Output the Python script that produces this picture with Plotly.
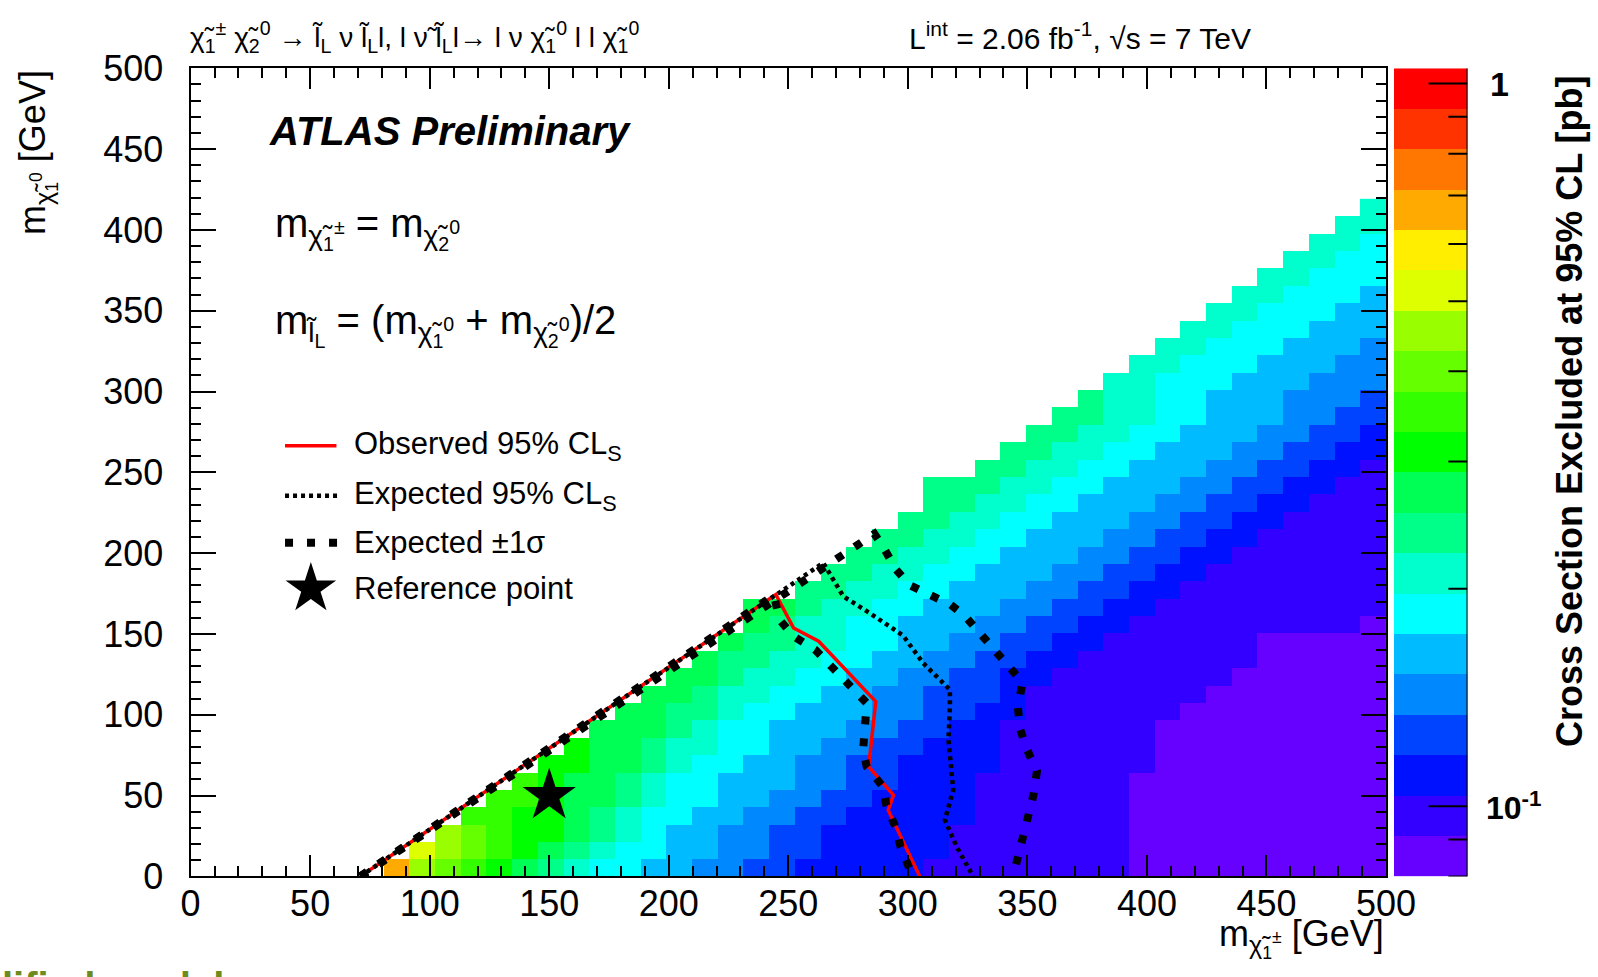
import math
import plotly.graph_objects as go

W, H = 1598, 977
FONT = "Liberation Sans, Arial, Helvetica, sans-serif"

# ---------------- histogram binning (GeV) ----------------
X_MIN, X_MAX, N_XBINS = 70.0, 500.0, 40
Y_MIN = 0.0
BIN_W = (X_MAX - X_MIN) / N_XBINS          # 10.75 GeV bins in both directions

# ---------------- colour bands (lowest -> highest excluded cross section) ----------------
BAND_CODES = "VUBNASCQPGHILKYyOorR"
BAND_COLORS = ["#6600FF", "#3300FF", "#0011FF", "#0044FF", "#0088FF",
               "#00BBFF", "#00FFFF", "#00FFCC", "#00FF88", "#00FF55",
               "#00FF00", "#33FF00", "#66FF00", "#99FF00", "#DDFF00",
               "#FFEE00", "#FFAA00", "#FF7700", "#FF3300", "#FF0000"]
Z_LO, Z_HI = 0.08, 1.05   # pb, colour-axis range

# first filled column of each row (row 0 = lowest neutralino-mass bin)
ROW_FIRST_COL = [1, 2, 3, 4, 5, 6, 7, 8, 9, 10, 11, 12, 13, 14, 15, 15, 17, 18, 19, 20,
                 21, 22, 22, 24, 25, 26, 27, 28, 29, 30, 31, 32, 33, 34, 35, 36, 37, 38, 39]
# band code of every filled cell, read row by row from left to right
ROW_BANDS = [
    "OKLIHGPQCCSSAANNBBBBBUUUUUUUUVVVVVVVVVV",
    "YKLIHGPQCCSSAANNBBBBBUUUUUUUVVVVVVVVVV",
    "KLIHHGPQCSSAANNBBBBBUUUUUUUVVVVVVVVVV",
    "IIHHGPQCCSSAANNBBBBBUUUUUUVVVVVVVVVV",
    "IIHGGPQCCSSAANNBBBBUUUUUUVVVVVVVVVV",
    "IHGGPQCCSSSAANNBBBUUUUUUVVVVVVVVVV",
    "HHGGPQCCSSAANNBBBBUUUUUUVVVVVVVVV",
    "HGGPQQCCSSAANNBBBUUUUUUVVVVVVVVV",
    "GGGPQCCSSSAANNBBUUUUUUVVVVVVVVV",
    "GGPPQCCSSSAANNBBUUUUUUVVVVVVVV",
    "GGPQQCCSSAANNNBUUUUUUUVVVVVVV",
    "GGPQQCCSSAANNBBUUUUUUUVVVVVV",
    "GPPQQCCSSAANNBBUUUUUUUVVVVV",
    "GPPQQCCSSAANNBBUUUUUUVVVVV",
    "GPQQCCSSSAANNBBUUUUUUUUUV",
    "GGPQQCCSSSAANNBBUUUUUUUUU",
    "PPQQCCSSSAANNBBUUUUUUUU",
    "PPQQCCSSSAANNBBUUUUUUU",
    "PPQQCCSSSAANNBBUUUUUU",
    "PPQQCCSSSAANNBBUUUUU",
    "PPQQCCSSSAANNBBUUUU",
    "PPQQCCSSSAANNBBUUU",
    "PPPQQCCSSSAANNBBUU",
    "PPQQCCSSSAANNBBU",
    "PPQQCCSSSAANNBB",
    "PPQQCCSSSAANNB",
    "PPQQCCSSSAANN",
    "PQQCCSSSAAAN",
    "QQCCCSSSAAA",
    "QQCCCSSSAA",
    "QQCCCSSSA",
    "QQCCCSSS",
    "QQCCCSS",
    "QQCCCS",
    "QQCCC",
    "QQCC",
    "QQC",
    "QQ",
    "Q",
]

# ---------------- exclusion contours (GeV) ----------------
OBS_X = [71, 244.8, 252.2, 262.7, 286.6, 283.6, 294.0, 291.8, 305]
OBS_Y = [0, 174.4, 153.7, 145.5, 108.2, 67.9, 50.3, 41.0, 0]

EXP_X = [71, 264.6, 273.0, 284.0, 298.0, 306.4, 317.6, 317.6, 317.0, 319.0, 315.5, 320.4, 327.3]
EXP_Y = [0, 194.0, 173.3, 163.0, 149.0, 132.0, 115.5, 105.2, 84.5, 53.5, 35.0, 18.4, 0]

P1S_X = [71, 286, 290, 295, 301, 310, 318, 324, 330, 336, 342, 348, 346, 347, 350, 354, 352.5, 350.5, 347.6, 345.5, 344]
P1S_Y = [0, 212, 203, 190, 180, 174, 168, 161, 151, 141, 130, 120, 105, 91, 78, 65, 50, 37, 23, 9, 0]

M1S_X = [71, 244, 246.3, 252.2, 261.2, 268.7, 276.1, 282.8, 282.1, 281.3, 282.8, 289.6, 291.0, 294.8, 297.0, 301.0, 302]
M1S_Y = [0, 174, 158.9, 148.6, 140.3, 127.9, 117.5, 107.2, 92.7, 78.2, 67.9, 55.5, 44.1, 30.6, 18.2, 5.0, 0]

REF_X, REF_Y = [150], [50]

CB_TICK_VALUES = [0.08, 0.09, 0.1, 0.2, 0.3, 0.4, 0.5, 0.6, 0.7, 0.8, 0.9, 1.0]
CB_MAJOR = [0.1, 1.0]

# ---------------- build histogram ----------------
lo, hi = math.log10(Z_LO), math.log10(Z_HI)
step = (hi - lo) / len(BAND_COLORS)
x_edges = [X_MIN + BIN_W * k for k in range(N_XBINS + 1)]
y_edges = [Y_MIN + BIN_W * k for k in range(len(ROW_BANDS) + 1)]
z = []
for first, codes in zip(ROW_FIRST_COL, ROW_BANDS):
    row = [None] * N_XBINS
    for k, ch in enumerate(codes):
        i = first + k
        if i < N_XBINS:
            row[i] = lo + (BAND_CODES.index(ch) + 0.5) * step
    z.append(row)

n = len(BAND_COLORS)
cscale = []
for k, c in enumerate(BAND_COLORS):
    cscale.append([k / n, c])
    cscale.append([(k + 1) / n, c])

# ---------------- layout geometry (pixels) ----------------
PX0, PX1 = 190.6, 1386.0
PY0, PY1 = 68.3, 876.4
CBX0, CBX1 = 1394.0, 1467.5
xdom = [PX0 / W, PX1 / W]
ydom = [1 - PY1 / H, 1 - PY0 / H]
cbdom = [CBX0 / W, CBX1 / W]

fig = go.Figure()

fig.add_trace(go.Heatmap(x=x_edges, y=y_edges, z=z, colorscale=cscale, zmin=lo, zmax=hi,
                         showscale=False, hoverinfo="skip", xaxis="x", yaxis="y"))

BIG_DOT = dict(color="black", width=8, dash="8px,14px")
FINE_DOT = dict(color="black", width=4.5, dash="4px,4px")
fig.add_trace(go.Scatter(x=OBS_X, y=OBS_Y, mode="lines",
                         line=dict(color="#FF0000", width=3.5), hoverinfo="skip"))
fig.add_trace(go.Scatter(x=M1S_X, y=M1S_Y, mode="lines", line=BIG_DOT, hoverinfo="skip"))
fig.add_trace(go.Scatter(x=P1S_X, y=P1S_Y, mode="lines", line=BIG_DOT, hoverinfo="skip"))
fig.add_trace(go.Scatter(x=EXP_X, y=EXP_Y, mode="lines", line=FINE_DOT, hoverinfo="skip"))
fig.add_trace(go.Scatter(x=REF_X, y=REF_Y, mode="markers",
                         marker=dict(symbol="star", size=40, color="black"), hoverinfo="skip"))
# legend star
fig.add_trace(go.Scatter(x=[50.3], y=[178], mode="markers",
                         marker=dict(symbol="star", size=38, color="black"), hoverinfo="skip"))

# colour bar as its own small panel
cb_edges = [lo + step * k for k in range(n + 1)]
fig.add_trace(go.Heatmap(x=[0, 1], y=cb_edges, z=[[lo + (k + 0.5) * step] for k in range(n)],
                         colorscale=cscale, zmin=lo, zmax=hi, showscale=False,
                         hoverinfo="skip", xaxis="x2", yaxis="y2"))

axis_common = dict(showline=True, linecolor="black", linewidth=2, mirror="allticks",
                   ticks="inside", tickwidth=2, tickcolor="black", showgrid=False,
                   zeroline=False, automargin=False,
                   tickfont=dict(family=FONT, size=36, color="black"))
fig.update_layout(
    width=W, height=H, margin=dict(l=0, r=0, t=0, b=0),
    paper_bgcolor="white", plot_bgcolor="white", showlegend=False,
    font=dict(family=FONT, color="black"),
    xaxis=dict(domain=xdom, range=[0, 500], tick0=0, dtick=50, ticklen=21,
               minor=dict(ticks="inside", dtick=10, ticklen=10, tickwidth=2, tickcolor="black"),
               ticklabelstandoff=-6, anchor="y", **axis_common),
    yaxis=dict(domain=ydom, range=[0, 500], tick0=0, dtick=50, ticklen=25,
               minor=dict(ticks="inside", dtick=10, ticklen=10, tickwidth=2, tickcolor="black"),
               ticklabelstandoff=18, anchor="x", **axis_common),
    xaxis2=dict(domain=cbdom, range=[0, 1], visible=False, anchor="y2"),
    yaxis2=dict(domain=ydom, range=[lo, hi], visible=False, anchor="x2"),
)

shapes = []
# colour-bar right border and ticks
shapes.append(dict(type="line", xref="x2", yref="y2", x0=1, x1=1, y0=lo, y1=hi,
                   line=dict(color="black", width=2)))
for v in CB_TICK_VALUES:
    x0 = 0.47 if v in CB_MAJOR else 0.74
    yv = math.log10(v)
    shapes.append(dict(type="line", xref="x2", yref="y2", x0=x0, x1=1, y0=yv, y1=yv,
                       line=dict(color="black", width=2)))
# legend line samples
shapes.append(dict(type="line", xref="x", yref="y", x0=39.5, x1=61, y0=266.4, y1=266.4,
                   line=dict(color="#FF0000", width=3.5)))
shapes.append(dict(type="line", xref="x", yref="y", x0=39.5, x1=62, y0=235.5, y1=235.5,
                   line=FINE_DOT))
shapes.append(dict(type="line", xref="x", yref="y", x0=39.5, x1=62, y0=206.4, y1=206.4,
                   line=BIG_DOT))
fig.update_layout(shapes=shapes)

chi = "\u03c7\u0303"
sl = "l\u0303"
ann = []
def A(text, x, y, size, xref="paper", yref="paper", xanchor="left", yanchor="middle",
      angle=0, color="black"):
    ann.append(dict(text=text, x=x, y=y, xref=xref, yref=yref, xanchor=xanchor,
                    yanchor=yanchor, textangle=angle, showarrow=False,
                    font=dict(family=FONT, size=size, color=color)))

A(f"{chi}<sub>1</sub><sup>±</sup> {chi}<sub>2</sub><sup>0</sup> → {sl}<sub>L</sub> ν {sl}<sub>L</sub>l, l ν\u0303 {sl}<sub>L</sub>l→ l ν {chi}<sub>1</sub><sup>0</sup> l l {chi}<sub>1</sub><sup>0</sup>",
  188 / W, 1 - 37 / H, 28)
A("L<sup>int</sup> = 2.06 fb<sup>-1</sup>, √s = 7 TeV", 907 / W, 1 - 36 / H, 30)
A("<b><i>ATLAS Preliminary</i></b>", 32, 461, 40, xref="x", yref="y")
A(f"m<sub>{chi}<sub>1</sub><sup>±</sup></sub> = m<sub>{chi}<sub>2</sub><sup>0</sup></sub>", 34.5, 401, 40,
  xref="x", yref="y")
A(f"m<sub>{sl}<sub>L</sub></sub> = (m<sub>{chi}<sub>1</sub><sup>0</sup></sub> + m<sub>{chi}<sub>2</sub><sup>0</sup></sub>)/2",
  34.5, 341, 40, xref="x", yref="y")
A("Observed 95% CL<sub>S</sub>", 67.3, 266.4, 31, xref="x", yref="y")
A("Expected 95% CL<sub>S</sub>", 67.3, 235.5, 31, xref="x", yref="y")
A("Expected ±1σ", 67.3, 206.4, 31, xref="x", yref="y")
A("Reference point", 67.3, 178, 31, xref="x", yref="y")
A(f"m<sub>{chi}<sub>1</sub><sup>0</sup></sub> [GeV]", 37 / W, 1 - 153 / H, 36, xanchor="center", angle=-90)
A(f"m<sub>{chi}<sub>1</sub><sup>±</sup></sub> [GeV]", PX1 / W, 1 - 938 / H, 36, xanchor="right")
A("<b>Cross Section Excluded at 95% CL [pb]</b>", 1569 / W, 1 - 412 / H, 36, xanchor="center", angle=-90)
A("<b>1</b>", 1488 / W, 0.0, 34, yref="y2")
A("<b>10<sup>-1</sup></b>", 1484 / W, -1.0, 32, yref="y2")
A("<b>lified model</b>", 0.0, 14 / H, 40, yanchor="top", color="#6E8B1E")
fig.update_layout(annotations=ann)

fig.write_html("out.html")
